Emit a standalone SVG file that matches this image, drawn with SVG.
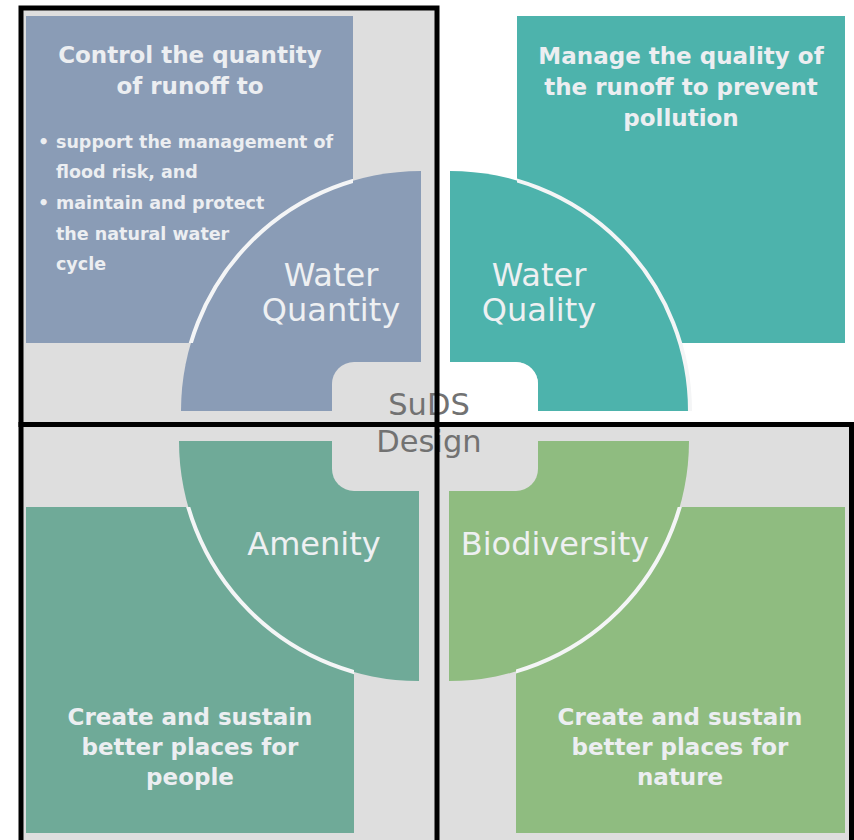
<svg xmlns="http://www.w3.org/2000/svg" width="854" height="840" viewBox="0 0 854 840">
  <style>
    .panel { fill: #dedede; }
    .frame { fill: none; stroke: #000; stroke-width: 5; }
    .edge { fill: none; stroke: #f4f5f6; stroke-width: 4; }
    .head { font-family: "DejaVu Sans", sans-serif; font-weight: bold; font-size: 23px; fill: #eceef1; text-anchor: middle; }
    .bullet { font-family: "DejaVu Sans", sans-serif; font-weight: bold; font-size: 17.5px; fill: #eceef1; }
    .title { font-family: "DejaVu Sans", sans-serif; font-size: 32px; fill: #eef0f2; text-anchor: middle; }
    .core { font-family: "DejaVu Sans", sans-serif; font-size: 30.5px; fill: #727272; text-anchor: middle; }
    .wq { fill: #8a9cb6; }
    .wl { fill: #4db3ac; }
    .am { fill: #6faa98; }
    .bd { fill: #8fbc80; }
  </style>
  <defs>
    <clipPath id="upper-right">
      <rect x="437" y="0" width="417" height="424.5"/>
    </clipPath>
    <!-- the white seam between a quarter disc and its box only shows over the box -->
    <clipPath id="seam-wq"><rect x="26" y="16" width="327" height="327"/></clipPath>
    <clipPath id="seam-wl"><rect x="517" y="16" width="328" height="398"/></clipPath>
    <clipPath id="seam-am"><rect x="26" y="507" width="328" height="326"/></clipPath>
    <clipPath id="seam-bd"><rect x="516" y="507" width="329" height="326"/></clipPath>
  </defs>

  <!-- canvas and panel backgrounds -->
  <rect x="0" y="0" width="854" height="840" fill="#ffffff"/>
  <rect class="panel" x="21" y="8" width="416" height="416.5"/>
  <rect class="panel" x="21" y="424.5" width="830.5" height="415.5"/>

  <!-- Water Quantity -->
  <g id="water-quantity">
    <rect class="wq" x="26" y="16" width="327" height="327"/>
    <path class="wq" d="M421,411 L181,411 A240,240 0 0 1 421,171 Z"/>
    <path class="edge" clip-path="url(#seam-wq)" d="M181,411 A240,240 0 0 1 421,171"/>
    <text class="head" x="190" y="63">Control the quantity</text>
    <text class="head" x="190" y="94">of runoff to</text>
    <text class="bullet" x="38" y="148">•</text>
    <text class="bullet" x="56" y="148">support the management of</text>
    <text class="bullet" x="56" y="178">flood risk, and</text>
    <text class="bullet" x="38" y="209">•</text>
    <text class="bullet" x="56" y="209">maintain and protect</text>
    <text class="bullet" x="56" y="240">the natural water</text>
    <text class="bullet" x="56" y="270">cycle</text>
    <text class="title" x="331" y="286">Water</text>
    <text class="title" x="331" y="321">Quantity</text>
  </g>

  <!-- Water Quality -->
  <g id="water-quality">
    <rect class="wl" x="517" y="16" width="328" height="327"/>
    <path class="wl" d="M450,411 L450,171 A240,240 0 0 1 690,411 Z"/>
    <path class="edge" clip-path="url(#seam-wl)" d="M450,171 A240,240 0 0 1 690,411"/>
    <text class="head" x="681" y="64">Manage the quality of</text>
    <text class="head" x="681" y="95">the runoff to prevent</text>
    <text class="head" x="681" y="126">pollution</text>
    <text class="title" x="539" y="286">Water</text>
    <text class="title" x="539" y="321">Quality</text>
  </g>

  <!-- Amenity -->
  <g id="amenity">
    <rect class="am" x="26" y="507" width="328" height="326"/>
    <path class="am" d="M419,441 L179,441 A240,240 0 0 0 419,681 Z"/>
    <path class="edge" clip-path="url(#seam-am)" d="M179,441 A240,240 0 0 0 419,681"/>
    <text class="title" x="314" y="555">Amenity</text>
    <text class="head" x="190" y="725">Create and sustain</text>
    <text class="head" x="190" y="755">better places for</text>
    <text class="head" x="190" y="785">people</text>
  </g>

  <!-- Biodiversity -->
  <g id="biodiversity">
    <rect class="bd" x="516" y="507" width="329" height="326"/>
    <path class="bd" d="M449,441 L689,441 A240,240 0 0 1 449,681 Z"/>
    <path class="edge" clip-path="url(#seam-bd)" d="M689,441 A240,240 0 0 1 449,681"/>
    <text class="title" x="555" y="555">Biodiversity</text>
    <text class="head" x="680" y="725">Create and sustain</text>
    <text class="head" x="680" y="755">better places for</text>
    <text class="head" x="680" y="785">nature</text>
  </g>

  <!-- SuDS Design hub -->
  <g id="suds-design">
    <rect class="panel" x="332" y="362" width="206" height="129" rx="22"/>
    <rect x="332" y="362" width="206" height="129" rx="22" fill="#ffffff" clip-path="url(#upper-right)"/>
    <text class="core" x="429" y="415">SuDS</text>
    <text class="core" x="429" y="452">Design</text>
  </g>

  <!-- outline frames -->
  <g id="frames">
    <rect class="frame" x="21" y="8" width="416" height="416.5"/>
    <path class="frame" d="M21,845 L21,424.5 L437,424.5 L437,845"/>
    <path class="frame" d="M437,424.5 L851.5,424.5 L851.5,845"/>
  </g>
</svg>
